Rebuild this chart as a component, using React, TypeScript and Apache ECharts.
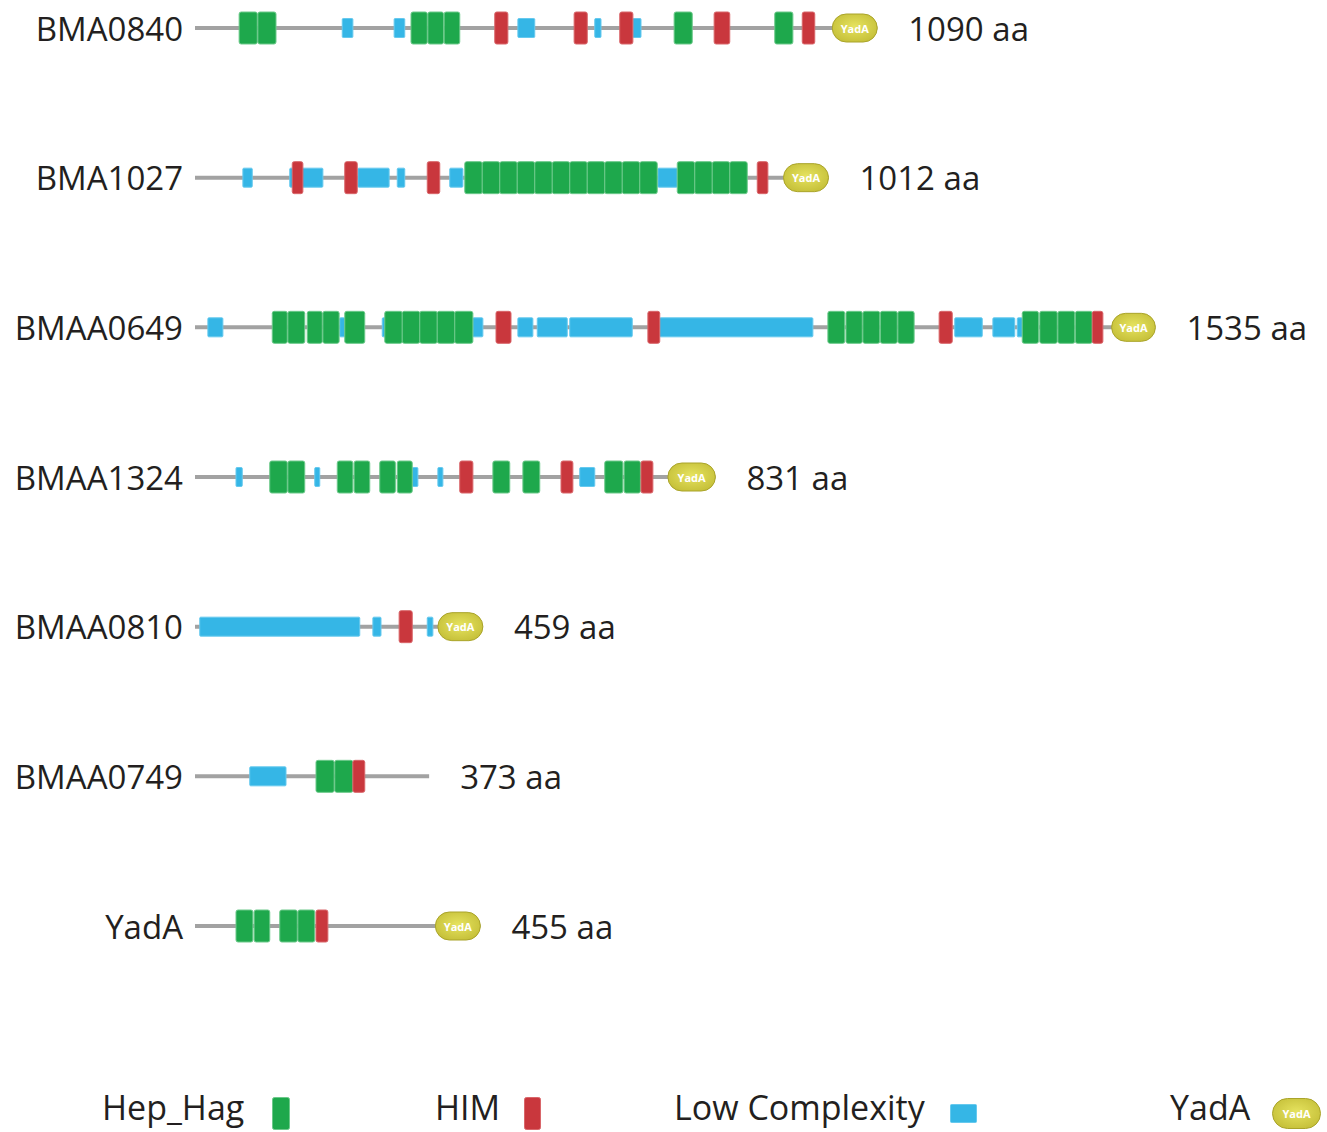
import React, { useEffect, useRef } from "react";
import * as echarts from "echarts";

const proteins = ["BMA0840", "BMA1027", "BMAA0649", "BMAA1324", "BMAA0810", "BMAA0749", "YadA"];
const lengths = [1090, 1012, 1535, 831, 459, 373, 455];

// [row index, start aa, end aa]
const hepHag = [
  [0, 69, 98], [0, 99, 128], [0, 344, 370], [0, 371, 396], [0, 397, 422], [0, 765, 794], [0, 926, 955],
  [1, 430, 458], [1, 458, 486], [1, 486, 514], [1, 514, 542], [1, 542, 570], [1, 570, 598], [1, 598, 626],
  [1, 626, 654], [1, 654, 682], [1, 682, 710], [1, 710, 738], [1, 770, 798], [1, 798, 826], [1, 826, 854], [1, 854, 882],
  [2, 122, 146], [2, 147, 174], [2, 178, 202], [2, 203, 229], [2, 238, 270],
  [2, 302, 330], [2, 330, 358], [2, 358, 386], [2, 386, 414], [2, 414, 443],
  [2, 1011, 1038], [2, 1040, 1066], [2, 1067, 1094], [2, 1095, 1122], [2, 1123, 1149],
  [2, 1322, 1348], [2, 1350, 1378], [2, 1379, 1406], [2, 1407, 1434],
  [3, 118, 146], [3, 147, 174], [3, 226, 251], [3, 253, 278], [3, 294, 319], [3, 322, 346],
  [3, 475, 502], [3, 523, 550], [3, 654, 683], [3, 685, 711],
  [5, 192, 221], [5, 222, 251],
  [6, 64, 91], [6, 93, 118], [6, 134, 162], [6, 163, 190],
];

const him = [
  [0, 478, 499], [0, 605, 626], [0, 678, 699], [0, 829, 854], [0, 970, 990],
  [1, 154, 171], [1, 238, 258], [1, 370, 390], [1, 898, 915],
  [2, 480, 504], [2, 723, 742], [2, 1189, 1210], [2, 1434, 1451],
  [3, 422, 443], [3, 584, 603], [3, 712, 731],
  [4, 325, 346],
  [5, 251, 270],
  [6, 192, 211],
];

const lowComplexity = [
  [0, 234, 251], [0, 317, 334], [0, 515, 542], [0, 638, 648], [0, 699, 712],
  [1, 75, 90], [1, 150, 203], [1, 259, 309], [1, 322, 334], [1, 406, 427], [1, 739, 770],
  [2, 19, 43], [2, 230, 238], [2, 298, 306], [2, 443, 459], [2, 515, 539], [2, 546, 594], [2, 598, 698],
  [2, 742, 987], [2, 1214, 1258], [2, 1275, 1310], [2, 1314, 1322],
  [3, 64, 74], [3, 190, 198], [3, 346, 355], [3, 387, 395], [3, 614, 638],
  [4, 6, 262], [4, 283, 296], [4, 370, 379],
  [5, 86, 144],
];

const yadaDomain = [
  [0, 1018, 1090],
  [1, 940, 1012],
  [2, 1465, 1535],
  [3, 755, 831],
  [4, 387, 459],
  [6, 383, 455],
];

const legendNames = ["Hep_Hag", "HIM", "Low Complexity", "YadA"];

const FONT = "'Open Sans', 'Noto Sans', sans-serif";
const GREEN = "#1ea84c";
const RED = "#c9373d";
const BLUE = "#35b6e6";

const yadaFill = () =>
  new echarts.graphic.RadialGradient(0.5, 0.45, 0.7, [
    { offset: 0, color: "#e6e35f" },
    { offset: 1, color: "#bfb932" },
  ]);

function blockRender(h: number, fill: string, stroke: string, r: number) {
  return (params: any, api: any) => {
    const row = api.value(0);
    const p0 = api.coord([api.value(1), row]);
    const p1 = api.coord([api.value(2), row]);
    return {
      type: "rect",
      shape: { x: p0[0], y: p0[1] - h / 2, width: p1[0] - p0[0], height: h, r },
      style: { fill, stroke, lineWidth: 1 },
    };
  };
}

function yadaRender(params: any, api: any) {
  const row = api.value(0);
  const p0 = api.coord([api.value(1), row]);
  const p1 = api.coord([api.value(2), row]);
  const h = 28;
  const w = p1[0] - p0[0];
  return {
    type: "group",
    children: [
      {
        type: "rect",
        shape: { x: p0[0], y: p0[1] - h / 2, width: w, height: h, r: h / 2 },
        style: { fill: yadaFill(), stroke: "#aaa42a", lineWidth: 1 },
      },
      {
        type: "text",
        style: {
          text: "YadA",
          x: p0[0] + w / 2,
          y: p0[1],
          align: "center",
          verticalAlign: "middle",
          fontSize: 11,
          fontWeight: "bold",
          fontFamily: FONT,
          fill: "#ffffff",
        },
      },
    ],
  };
}

function backboneRender(params: any, api: any) {
  const row = api.value(0);
  const len = api.value(1);
  const p0 = api.coord([0, row]);
  const p1 = api.coord([len, row]);
  return {
    type: "group",
    children: [
      {
        type: "line",
        shape: { x1: p0[0] - 1, y1: p0[1], x2: p1[0], y2: p1[1] },
        style: { stroke: "#a2a2a2", lineWidth: 4 },
      },
      {
        type: "text",
        style: {
          text: `${len} aa`,
          x: p1[0] + 31,
          y: p1[1],
          align: "left",
          verticalAlign: "middle",
          fontSize: 33,
          fontFamily: FONT,
          fill: "#231f20",
        },
      },
    ],
  };
}

export default function App() {
  const ref = useRef<HTMLDivElement>(null);
  useEffect(() => {
    document.body.style.margin = "0";
    const chart = echarts.init(ref.current!, undefined, { renderer: "svg" });
    const legendY = 1113;
    const legendText = (text: string, x: number) => ({
      type: "text",
      left: x,
      top: legendY - 23,
      style: { text, fontSize: 34, fontFamily: FONT, fill: "#231f20" },
    });
    chart.setOption({
      animation: false,
      backgroundColor: "#ffffff",
      grid: { left: 196, top: 28, width: 1125, height: 898, containLabel: false },
      xAxis: { type: "value", min: 0, max: 1800, show: false },
      yAxis: {
        type: "category",
        data: proteins,
        inverse: true,
        boundaryGap: false,
        axisLine: { show: false },
        axisTick: { show: false },
        splitLine: { show: false },
        axisLabel: { margin: 13, fontSize: 33, fontFamily: FONT, color: "#231f20" },
      },
      series: [
        {
          type: "custom",
          name: "backbone",
          renderItem: backboneRender,
          data: lengths.map((l, i) => [i, l]),
          encode: { x: 1, y: 0 },
          clip: false,
          z: 1,
        },
        {
          type: "custom",
          name: legendNames[2],
          renderItem: blockRender(19, BLUE, "#66c9ee", 1),
          data: lowComplexity,
          encode: { x: [1, 2], y: 0 },
          clip: false,
          z: 2,
        },
        {
          type: "custom",
          name: legendNames[0],
          renderItem: blockRender(32, GREEN, "#6cc98a", 2),
          data: hepHag,
          encode: { x: [1, 2], y: 0 },
          clip: false,
          z: 3,
        },
        {
          type: "custom",
          name: legendNames[1],
          renderItem: blockRender(32, RED, "#d9666a", 2),
          data: him,
          encode: { x: [1, 2], y: 0 },
          clip: false,
          z: 4,
        },
        {
          type: "custom",
          name: legendNames[3],
          renderItem: yadaRender,
          data: yadaDomain,
          encode: { x: [1, 2], y: 0 },
          clip: false,
          z: 5,
        },
      ],
      graphic: [
        legendText(legendNames[0], 102),
        { type: "rect", left: 272, top: 1097, shape: { width: 17, height: 32, r: 2 }, style: { fill: GREEN, stroke: "#6cc98a" } },
        legendText(legendNames[1], 435),
        { type: "rect", left: 524, top: 1097, shape: { width: 16, height: 32, r: 2 }, style: { fill: RED, stroke: "#d9666a" } },
        legendText(legendNames[2], 674),
        { type: "rect", left: 950, top: 1104, shape: { width: 26, height: 18, r: 1 }, style: { fill: BLUE, stroke: "#66c9ee" } },
        legendText(legendNames[3], 1170),
        {
          type: "group",
          left: 1272,
          top: 1098,
          children: [
            { type: "rect", shape: { x: 0, y: 0, width: 48, height: 30, r: 15 }, style: { fill: yadaFill(), stroke: "#aaa42a" } },
            {
              type: "text",
              style: { text: "YadA", x: 24, y: 15, align: "center", verticalAlign: "middle", fontSize: 11, fontWeight: "bold", fontFamily: FONT, fill: "#fff" },
            },
          ],
        },
      ],
    });
    return () => chart.dispose();
  }, []);
  return <div ref={ref} style={{ width: 1327, height: 1132 }} />;
}
